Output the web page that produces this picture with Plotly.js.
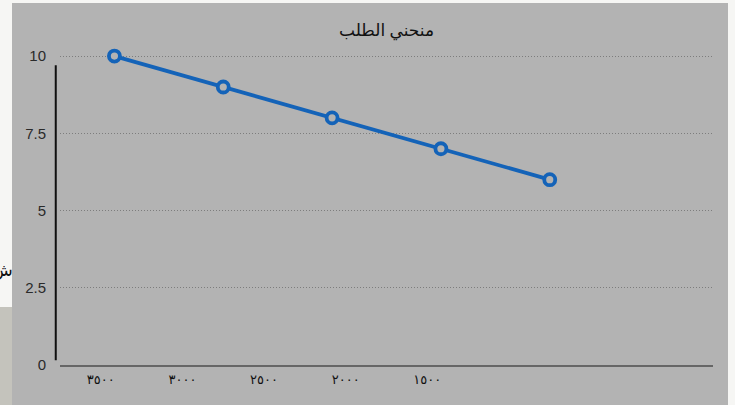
<!DOCTYPE html>
<html>
<head>
<meta charset="utf-8">
<script src="https://cdn.plot.ly/plotly-3.0.1.min.js"></script>
<style>
  html, body { margin: 0; padding: 0; background: #f6f6f4; width: 735px; height: 405px; overflow: hidden; }
  #strip { position: absolute; left: 0; top: 307px; width: 12px; height: 98px; background: #c4c3bc; }
  #frag { position: absolute; left: -8px; top: 258px; font-family: "Noto Sans", "DejaVu Sans", sans-serif; font-size: 17px; color: #111; direction: rtl; }
  #chart { position: absolute; left: 12px; top: 3px; width: 716px; height: 402px; }
</style>
</head>
<body>
<div id="strip"></div>
<div id="frag"></div>
<div id="chart"></div>
<script>
  var chartTitle = '\u0645\u0646\u062d\u0646\u064a \u0627\u0644\u0637\u0644\u0628';
  var categories = ['\u0663\u0665\u0660\u0660', '\u0663\u0660\u0660\u0660', '\u0662\u0665\u0660\u0660', '\u0662\u0660\u0660\u0660', '\u0661\u0665\u0660\u0660'];
  var values = [10, 9, 8, 7, 6];
  var yTickVals = [0, 2.5, 5, 7.5, 10];
  var yTickText = ['0', '2.5', '5', '7.5', '10'];
  var fragText = '\u0634';

  document.getElementById('frag').textContent = fragText;

  var blue = '#1463b8';
  var gray = '#b3b3b3';

  var traces = [
    {
      x: categories, y: values, type: 'scatter', mode: 'lines+markers',
      xaxis: 'x', yaxis: 'y',
      line: { color: blue, width: 3.8 },
      marker: { symbol: 'circle', size: 11, color: gray, line: { color: blue, width: 3.8 } },
      cliponaxis: false, hoverinfo: 'skip', showlegend: false
    },
    {
      x: categories, y: values, type: 'scatter', mode: 'markers',
      xaxis: 'x2', yaxis: 'y',
      marker: { opacity: 0 }, hoverinfo: 'skip', showlegend: false
    }
  ];

  var layout = {
    width: 716, height: 402,
    paper_bgcolor: gray, plot_bgcolor: gray,
    margin: { l: 48, r: 15, t: 50, b: 39.5 },
    showlegend: false,
    title: {
      text: chartTitle, x: 0.5, xref: 'paper', y: 27, yref: 'container', yanchor: 'middle',
      font: { family: '"Noto Sans", "DejaVu Sans", sans-serif', size: 17, color: '#111' }
    },
    xaxis: {
      type: 'category', range: [-0.5, 5.5],
      showticklabels: false, showgrid: false, zeroline: false,
      showline: true, linecolor: '#666', linewidth: 2, ticks: ''
    },
    xaxis2: {
      type: 'category', range: [-0.5, 7.5], overlaying: 'x', side: 'bottom',
      showgrid: false, zeroline: false, showline: false, ticks: '',
      tickfont: { family: '"Noto Sans", "DejaVu Sans", sans-serif', size: 13, color: '#111' },
      ticklabelstandoff: 5
    },
    yaxis: {
      range: [0, 10.1], tickmode: 'array', tickvals: yTickVals, ticktext: yTickText,
      showgrid: true, gridcolor: '#7d7d7d', griddash: '1px,2px', gridwidth: 1,
      zeroline: false, showline: false, ticks: '',
      tickfont: { family: 'Arial, "Liberation Sans", sans-serif', size: 15, color: '#2a2a2a' },
      ticklabelstandoff: 13
    },
    shapes: [
      { type: 'line', xref: 'paper', yref: 'y', x0: -0.0065, x1: -0.0065, y0: 0.15, y1: 9.7,
        line: { color: '#111', width: 2 } }
    ]
  };

  layout.title.y = 1 - 27 / 402;

  Plotly.newPlot('chart', traces, layout, { displayModeBar: false, staticPlot: true });
</script>
</body>
</html>
